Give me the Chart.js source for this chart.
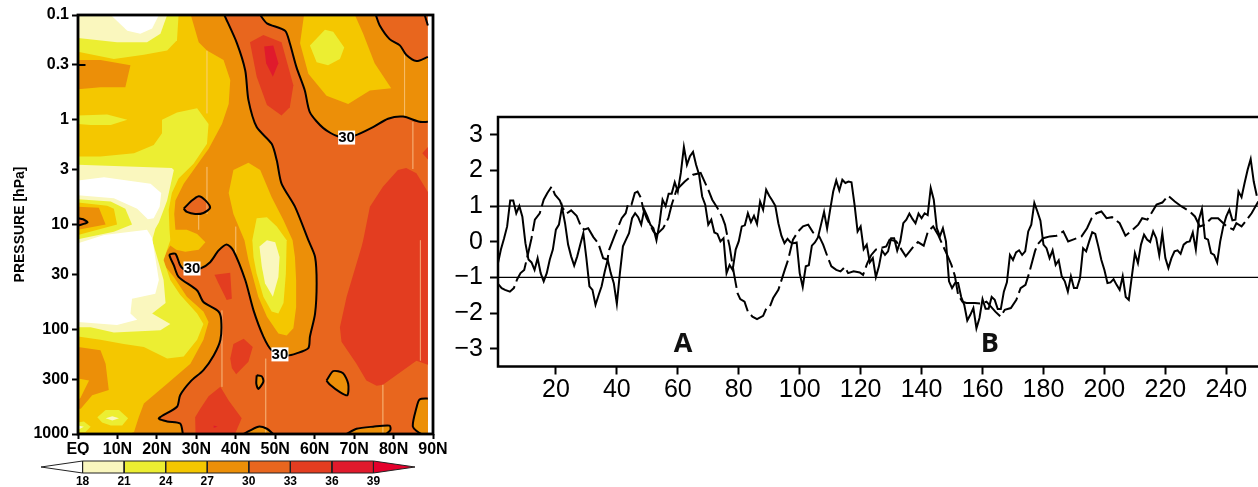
<!DOCTYPE html>
<html>
<head>
<meta charset="utf-8">
<title>temperature section and index series</title>
<script src="https://cdn.jsdelivr.net/npm/chart.js@4"></script>
<style>
	html, body { margin: 0; padding: 0; background: #fff; overflow: hidden; }
	canvas { position: absolute; }
</style>
</head>
<body>
<canvas id="sectionChart" width="460" height="455" style="left:0px;top:0px"></canvas>
<canvas id="barChart" width="440" height="32" style="left:0px;top:455px"></canvas>
<canvas id="seriesChart" width="818" height="487" style="left:440px;top:0px"></canvas>
<script>
// left panel: contour regions as [latitude, log10(pressure hPa)]
var latTicks = [0, 10, 20, 30, 40, 50, 60, 70, 80, 90];
var latLabels = ["EQ", "10N", "20N", "30N", "40N", "50N", "60N", "70N", "80N", "90N"];
var pressureTicks = [0.1, 0.3, 1, 3, 10, 30, 100, 300, 1000];
var levels = [18, 21, 24, 27, 30, 33, 36, 39];
var levelColors = ["#FFFFFF", "#FAF7BE", "#ECEE32", "#F4C700", "#EC8F08", "#E8661E", "#E33D20", "#E01A2C", "#E4002B"];
var labelLats = [68.1, 28.9, 51.2];
var labelLogP = [0.17, 1.42, 2.24];

var contourWest = [[37.1,-1],[40.3,-.73],[42.4,-.47],[43.2,-.19],[45.3,.07],[49.1,.23],[50.4,.39],[51.6,.61],[55,.83],[58.4,1.15],[60.1,1.31],[60.5,1.56],[60.1,1.85],[58.8,2.07],[58.4,2.18],[55.4,2.23],[52.9,2.25],[49.1,2.2],[47,2.07],[44.5,1.82],[42.4,1.53],[39.4,1.25],[37.7,1.19],[35.6,1.25],[33.5,1.36],[31,1.42],[27,1.43],[25.9,1.39],[24.7,1.28],[23.2,1.29],[24.3,1.39],[25.5,1.5],[30.2,1.63],[31.8,1.74],[35.6,1.83],[36.3,1.91],[36.1,2.1],[34.4,2.25],[31.8,2.39],[28.5,2.5],[25.9,2.63],[25.1,2.74],[20.5,2.85],[22.6,2.88],[25.9,2.9],[26.6,3]];
var contourMid = [[46.2,-1],[47.9,-.92],[52.5,-.85],[53.7,-.73],[55.4,-.5],[57.5,-.28],[58.8,-.07],[62.2,.08],[66,.16],[70.2,.15],[74.8,.07],[78.6,-.01],[82.4,-.03],[86.6,.02],[88.7,.02]];
var contourNorth = [[75.5,-1],[76.5,-.9],[79,-.77],[81.6,-.71],[83.2,-.62],[85.8,-.56],[88.7,-.6]];
var contourCorner = [[87.9,-1],[88.7,-.9]];
var loopA = [[26.8,.85],[28.6,.78],[30.6,.73],[32.3,.77],[33.5,.84],[31.8,.89],[29.7,.9],[27.6,.88],[26.8,.85]];
var loopEq = [[0,.94],[1.3,.95],[2.4,.98],[0,1.01]];
var loopB = [[45.3,2.44],[46.6,2.45],[47,2.5],[45.7,2.57],[45.2,2.52],[45.3,2.44]];
var loopC = [[63,2.49],[64.7,2.4],[67.2,2.42],[68.5,2.52],[68.3,2.63],[66.4,2.6],[63.9,2.53],[63,2.49]];
var loopD = [[42,3],[45.7,2.93],[47.9,2.95],[49.5,3]];
var loopE = [[68.1,3],[70.6,2.95],[74.8,2.93],[79,2.92],[79.2,2.96],[78.2,3]];
var loopF = [[88.7,2.66],[86.6,2.67],[85.8,2.75],[84.9,2.93],[87,3],[88.7,3]];

var whole = [[0,-1],[88.7,-1],[88.7,3],[0,3]];
var below30West = [[0,-1]].concat(contourWest, [[0,3]]);
var below30North = contourMid.concat(contourNorth.slice().reverse());

var b24Main = [[0,-1],[28.6,-1],[30.6,-.74],[32.7,-.66],[36.9,-.57],[38.6,-.38],[38.2,-.15],[36.5,.04],[33.1,.28],[32.3,.32],[26.8,.61],[24.7,.77],[24.4,.9],[24.7,1.05],[27.6,1.05],[30.2,1.09],[32.3,1.17],[30.6,1.24],[27.2,1.26],[24.9,1.24],[23.4,1.2],[22.6,1.25],[21.3,1.36],[24.3,1.5],[27.6,1.69],[31.8,1.83],[33.1,1.93],[31.8,2.1],[28.5,2.33],[22.6,2.52],[16.7,2.71],[15.4,2.84],[14.2,2.98],[12.9,3],[0,3]];
var b27IslandTop = [[0,-.57],[5.7,-.57],[13.3,-.52],[12,-.31],[5.7,-.31],[0,-.29]];
var b27IslandLow = [[0,2.17],[5.7,2.2],[7,2.33],[7.8,2.58],[3.6,2.63],[.7,2.76],[0,2.76]];
var b24Notch = [[0,2.47],[2.8,2.49],[.7,2.65],[0,2.68]];
var b24North = [[57.3,-1],[70.2,-1],[72.3,-.82],[75.2,-.54],[79.4,-.3],[74,-.28],[68.5,-.15],[63,-.23],[58.4,-.44],[56.3,-.73]];
var b24Middle = [[38.2,.7],[39.4,.48],[43.2,.41],[46.2,.48],[49.1,.74],[52.1,.96],[54.4,1.15],[55,1.31],[55.3,1.53],[55.3,1.79],[54.6,1.99],[52.9,2.06],[50.8,2.04],[47.9,1.88],[45.7,1.69],[43.2,1.34],[42.2,1.15],[39.4,.9]];
var b24Corner = [[88.7,2.87],[88.1,2.93],[88.7,2.96]];

var b21Top = [[0,-1],[25.5,-1],[25.1,-.76],[22.6,-.66],[16.7,-.62],[9.1,-.58],[0,-.65]];
var b21Sliver = [[0,-.04],[7.4,-.05],[12.5,0],[8.3,.05],[3.2,.05],[0,.04]];
var b21Main = [[0,.35],[5.7,.35],[14.2,.32],[19.2,.24],[21.3,.13],[21.3,0],[25.1,-.07],[30.2,-.11],[33.1,.04],[32.7,.23],[29.3,.42],[25.5,.56],[23.8,.7],[23,.86],[23.2,1.05],[23.4,1.15],[21.7,1.34],[23.4,1.53],[25.9,1.67],[30.2,1.85],[31.8,1.95],[30.2,2.1],[26.8,2.26],[22.6,2.28],[16.7,2.17],[11.6,2.14],[5.7,2.1],[0,2.07]];
var b21Middle = [[44.2,1.15],[44.5,1.09],[45.3,.94],[47.9,.93],[50.4,1.02],[52.9,1.15],[52.7,1.47],[52.1,1.75],[50.8,1.85],[49.1,1.83],[47,1.69],[45.3,1.47],[44.5,1.31]];
var b21North = [[58.8,-.71],[62.6,-.86],[64.7,-.84],[67.5,-.69],[66.4,-.58],[63.4,-.52],[60.5,-.55]];
var b21Low1 = [[4.9,2.84],[7,2.77],[10.4,2.77],[12.7,2.85],[11.2,2.92],[8.3,2.92],[6.1,2.89]];
var b21Low2 = [[0,2.89],[1.5,2.88],[3.2,2.93],[1.9,2.98],[0,2.98]];

var b18Top = [[0,-1],[22.6,-1],[20.9,-.82],[17.5,-.74],[9.9,-.74],[0,-.78]];
var b18Main = [[0,.43],[23.8,.46],[24.3,.48],[22.6,.77],[20.5,.98],[19.6,1.04],[18.8,1.15],[20.5,1.37],[21.7,1.53],[22.2,1.75],[18.8,1.85],[23.4,1.95],[20.9,2.01],[9.1,2.03],[3.2,1.98],[0,1.98]];
var b18Middle = [[46,1.21],[47.9,1.15],[50,1.17],[51.1,1.31],[50.8,1.5],[49.4,1.69],[47.4,1.56],[46.6,1.4]];
var b18Low1 = [[7,2.85],[8.7,2.83],[10.4,2.85],[8.7,2.87]];
var b18Low2 = [[0,2.92],[1.5,2.93],[0,2.96]];

var whiteTop = [[8.3,-1],[20.5,-1],[18.8,-.87],[15.8,-.82],[12.5,-.85]];
var whiteUpper = [[0,.58],[6.6,.55],[18.4,.61],[21.1,.7],[20.7,.83],[19.2,.94],[17.7,.95],[15,.85],[9.1,.75],[0,.72]];
var whiteLower = [[0,1.18],[6.6,1.1],[17.5,1.05],[18.8,1.13],[20.5,1.53],[19.6,1.66],[13.7,1.71],[13.3,1.85],[15,1.91],[9.9,1.96],[0,1.93]];

var tongue21 = [[0,.76],[8.3,.78],[12,.85],[13.7,1],[9.1,1.07],[0,1.14]];
var tongue24 = [[0,.79],[7.4,.82],[9.1,.85],[9.9,1],[0,1.1]];
var tongue27 = [[0,.83],[5.3,.84],[7,1],[0,1.05]];

var b33Core = [[43.6,-.74],[47,-.81],[51.6,-.74],[54.6,-.33],[53.7,-.12],[51.6,-.04],[47.9,-.14],[45.3,-.41]];
var b33North = [[72.3,1.15],[74,.83],[77.3,.64],[81.1,.48],[83.2,.46],[85.8,.51],[88.7,.69],[88.7,2.34],[85.8,2.3],[77.3,2.53],[75.7,2.54],[73.1,2.49],[70.6,2.33],[66.8,2.12],[66.4,1.98],[68.1,1.69],[71.9,1.21]];
var b33Tip = [[88.7,.26],[87.3,.32],[88.7,.38]];
var b33Small = [[34.6,1.48],[38.6,1.46],[39,1.71],[37.7,1.72],[35.6,1.56]];
var b33Mid = [[38.6,2.28],[39.4,2.14],[42,2.09],[44.3,2.17],[43.2,2.31],[40.1,2.43],[39,2.37]];
var b33Low = [[29.7,2.84],[31,2.76],[33.1,2.64],[36.1,2.55],[38.2,2.68],[41.5,2.85],[39.8,3],[29.8,3]];
var b36Core = [[47.2,-.7],[49.5,-.71],[50.8,-.54],[49.4,-.41],[47.7,-.54]];
var b36Dot = [[34.4,2.92],[35.4,2.93],[34.4,2.94]];

// [latitude, logP from, logP to]
var seams = [[32.7,-.66,-.06],[32.7,.45,.9],[82.8,-.66,-.03],[84.9,.02,.47],[86.8,1.15,2.3],[47.6,2.28,3],[36.5,1.82,2.55],[77.3,2.53,3],[40,1.02,1.28],[30.6,.9,1.05]];

// right panel
var seriesXTicks = [20, 40, 60, 80, 100, 120, 140, 160, 180, 200, 220, 240];
var seriesYTicks = [-3, -2, -1, 0, 1, 2, 3];
var refLevels = [1, -1];
var solidValues = [
	-.6,-.2,.1,.43,1.16,1.16,.8,1,.7,-.04,
	-.5,-.58,-.79,-.46,-.88,-1.11,-.88,-.5,-.22,.34,
	.48,.97,.52,-.08,-.41,-.67,-.41,-.08,.24,-.46,
	-1.25,-1.35,-1.77,-1.5,-1.25,-.85,-.5,-.88,-1.16,-1.74,
	-.88,-.13,.06,.24,.66,.8,.69,.48,.9,.71,
	.48,.38,.04,.52,1.18,1,1.35,1.35,1.67,1.41,
	1.93,2.66,2.16,2.4,2.52,2.16,1.88,1.27,1.04,.48,
	.62,.26,.22,.01,.1,-.88,-.65,-.79,-.22,.01,
	.43,.46,.8,.55,.73,.5,1.13,.9,1.46,1.29,
	1.16,1.01,.52,.17,-.04,.08,-.02,-.04,-.02,-.88,
	-1.27,-.69,-.66,-.11,-.02,.12,.48,.84,.37,.9,
	1.41,1.72,1.44,1.74,1.65,1.69,1.67,1.04,.29,.43,
	-.21,-.08,-.58,-.46,-.99,-.69,-.24,-.37,-.27,.1,
	.1,-.25,.01,.52,.62,.79,.64,.52,.79,.66,
	.8,.75,1.51,1.18,.38,.15,.38,.01,-1.11,-1.3,
	-1.16,-1.16,-1.55,-1.77,-2.21,-2.05,-1.86,-2.43,-2.14,-1.61,
	-1.88,-1.88,-1.55,-1.63,-1.89,-1.89,-1.4,-1.14,-.37,-.51,
	-.3,-.24,-.37,-.27,.29,.48,1.09,.85,.59,-.08,
	-.18,-.46,-.24,-.65,-.52,-.97,-1.11,-1.4,-.97,-1.3,
	-1.3,-1.02,-.18,-.27,.01,.27,.22,-.13,-.51,-.79,
	-1.16,-1.14,-1.05,-1.21,-1.35,-.97,-1.55,-1.63,-.97,-.32,
	-.6,-.08,.2,.06,-.01,.29,.1,-.38,.24,-.46,
	-.74,-.46,-.27,-.24,-.34,-.08,-.01,.01,.26,-.22,
	.62,.92,.1,.06,-.32,-.37,-.58,.01,.43,.71,
	.9,.6,.62,1.41,1.25,1.65,2.02,2.32,1.69,1.29
];
var dashedDays = [1,2.2,3.3,4.9,6.2,7.3,8.4,9.6,10.9,12,13.1,14.7,16,17.2,18.6,19.7,21.3,22.2,23.5,25,26.8,28,29.2,30.6,32.3,33.9,35.5,36.9,37.5,39.4,41.6,42.9,43.7,44.8,45.9,46.8,47.9,48.7,49.8,52,53,55.2,56.9,58,59.6,62.3,65,67.5,68.6,70,71.3,73,74.6,75.5,76.4,77,78.4,79.6,80.5,81.9,83,84.5,86,88,89.1,90.2,91.3,93,95.1,96.2,97.8,99.5,101.1,102.8,104.4,106.4,107.7,109.3,110.4,112,113.4,114.8,115.9,117.7,119.7,120.8,122.2,123.5,125,128.4,129.5,131.7,133.4,134.8,136.1,137.4,138.8,140.7,142.1,143.8,145.4,147.1,148.4,149.8,150.9,152,153.4,154.7,157.5,159.7,161.3,164.2,165.9,167.3,169.3,171.1,172.5,174.1,175.3,177.2,178,179.9,182.1,184.3,186.5,188.1,189.7,192.5,194.3,195.8,197.4,199,200.7,202.5,205,206.9,208.7,211.1,212.4,214.1,215.4,217.1,219,220.9,223.1,225.3,228,229.7,231.3,233,235.1,237.3,240.1,242.3,243.3,245,246.3,248.3,250.5];
var dashedValues = [-1.18,-1.3,-1.35,-1.4,-1.3,-1.05,-.88,-.79,-.32,.1,.62,.8,1.18,1.37,1.55,1.32,1.16,.95,.79,.88,.73,.48,.34,.38,.13,-.04,-.46,-.5,-.22,.2,.66,.8,1.07,1.04,1.37,1.41,1.23,.9,.66,.29,.2,.38,.66,1.04,1.46,1.69,1.88,1.93,1.72,1.46,1.18,.95,.69,.48,.1,-.13,-.88,-1.44,-1.61,-1.68,-1.96,-2.1,-2.17,-2.08,-1.86,-1.82,-1.58,-1.35,-.79,-.51,.06,.29,.43,.48,.26,.15,-.08,-.46,-.69,-.79,-.83,-.71,-.88,-.83,-.86,-.93,-.6,-.37,-.22,-.13,.06,.01,-.22,-.41,-.27,-.13,-.01,-.11,.29,.43,.2,-.13,-.37,-.65,-.95,-1.49,-1.68,-1.72,-1.72,-1.74,-1.68,-1.96,-2.1,-1.91,-1.86,-1.63,-1.3,-1.21,-.88,-.27,-.08,.1,.15,.17,.29,.01,.06,.15,.38,.66,.8,.85,.66,.69,.52,.17,.29,.48,.66,.62,.8,1.04,1.1,1.29,1.13,.99,.85,.71,.43,.48,.66,.66,.43,.34,.52,.43,.57,.8,1.13];
var letterLabels = ["A", "B"];
var letterDays = [61.7, 162.4];
var letterValues = [-2.87, -2.87];

function toPoints(poly) {
	return poly.map(function (p) {
		return { x: p[0], y: Math.pow(10, p[1]) };
	});
}

var framePlugin = {
	id: "frame",
	afterDatasetsDraw: function (chart, args, opts) {
		var a = chart.chartArea, ctx = chart.ctx;
		ctx.save();
		ctx.strokeStyle = "#000";
		ctx.lineWidth = opts.width;
		ctx.strokeRect(a.left, a.top, a.right - a.left + (opts.open ? 20 : 0), a.bottom - a.top);
		ctx.restore();
	}
};

function drawSection() {
	var paint = [
		[whole, 5], [below30West, 4], [below30North, 4],
		[b24Main, 3], [b27IslandTop, 4], [b27IslandLow, 4], [b24Notch, 3], [b24North, 3], [b24Middle, 3], [b24Corner, 3],
		[b21Top, 2], [b21Sliver, 2], [b21Main, 2], [b21Middle, 2], [b21North, 2], [b21Low1, 2], [b21Low2, 2],
		[b18Top, 1], [b18Main, 1], [b18Middle, 1], [b18Low1, 1], [b18Low2, 1],
		[whiteTop, 0], [whiteUpper, 0], [whiteLower, 0],
		[tongue21, 2], [tongue24, 3], [tongue27, 4], [loopEq, 5],
		[b33Core, 6], [b33North, 6], [b33Tip, 6], [b33Small, 6], [b33Mid, 6], [b33Low, 6],
		[b36Core, 7], [b36Dot, 7],
		[loopA, 5], [loopB, 4], [loopC, 4], [loopD, 4], [loopE, 4], [loopF, 4]
	];
	var datasets = paint.map(function (item, i) {
		return {
			data: toPoints(item[0]),
			showLine: true,
			fill: "shape",
			backgroundColor: levelColors[item[1]],
			borderWidth: 0,
			pointRadius: 0,
			order: -i
		};
	});
	seams.forEach(function (s) {
		datasets.push({
			data: toPoints([[s[0], s[1]], [s[0], s[2]]]),
			showLine: true,
			borderColor: "rgba(255,215,160,0.3)",
			borderWidth: 1,
			pointRadius: 0,
			order: -100
		});
	});
	[contourWest, contourMid, contourNorth, contourCorner, loopA, loopEq, loopB, loopC, loopD, loopE, loopF].forEach(function (line) {
		datasets.push({
			data: toPoints(line),
			showLine: true,
			borderColor: "#000",
			borderWidth: 2,
			tension: 0.25,
			pointRadius: 0,
			order: -200
		});
	});
	// the short inner mark at 0.3 hPa
	datasets.push({
		data: [{ x: 0, y: 0.3 }, { x: 1.9, y: 0.3 }],
		showLine: true,
		borderColor: "#000",
		borderWidth: 2,
		pointRadius: 0,
		order: -201
	});

	var labelPlugin = {
		id: "contourLabels",
		afterDatasetsDraw: function (chart) {
			var ctx = chart.ctx;
			ctx.save();
			ctx.font = "bold 15px 'Liberation Sans'";
			ctx.textAlign = "center";
			ctx.textBaseline = "middle";
			labelLats.forEach(function (lat, i) {
				var x = chart.scales.x.getPixelForValue(lat);
				var y = chart.scales.y.getPixelForValue(Math.pow(10, labelLogP[i]));
				ctx.fillStyle = "#fff";
				ctx.fillRect(x - 8.5, y - 7, 17, 14);
				ctx.fillStyle = "#000";
				ctx.fillText("30", x, y + 0.5);
			});
			ctx.restore();
		}
	};

	new Chart(document.getElementById("sectionChart"), {
		type: "scatter",
		data: { datasets: datasets },
		plugins: [framePlugin, labelPlugin],
		options: {
			responsive: false,
			animation: false,
			devicePixelRatio: 1,
			layout: { padding: { top: 15, right: 27 } },
			plugins: { legend: { display: false }, tooltip: { enabled: false }, frame: { width: 2.8 } },
			scales: {
				x: {
					type: "linear",
					min: 0,
					max: 90,
					afterBuildTicks: function (s) { s.ticks = latTicks.map(function (v) { return { value: v }; }); },
					afterFit: function (s) { s.height = 21; },
					grid: { drawOnChartArea: false, tickLength: 5, tickWidth: 2, tickColor: "#000" },
					border: { display: false },
					ticks: {
						autoSkip: false,
						maxRotation: 0,
						padding: 1,
						color: "#000",
						font: { family: "'Liberation Sans'", size: 16, weight: "bold" },
						callback: function (v) { return latLabels[latTicks.indexOf(v)]; }
					}
				},
				y: {
					type: "logarithmic",
					reverse: true,
					min: 0.1,
					max: 1000,
					afterBuildTicks: function (s) { s.ticks = pressureTicks.map(function (v) { return { value: v }; }); },
					afterFit: function (s) { s.width = 78; },
					grid: { drawOnChartArea: false, tickLength: 6, tickWidth: 2, tickColor: "#000" },
					border: { display: false },
					title: {
						display: true,
						text: "PRESSURE [hPa]",
						color: "#000",
						padding: { top: 12, bottom: 0 },
						font: { family: "'Liberation Sans'", size: 14, weight: "bold" }
					},
					ticks: {
						autoSkip: false,
						padding: 3,
						color: "#000",
						font: { family: "'Liberation Sans'", size: 16, weight: "bold" },
						callback: function (v) { return String(v); }
					}
				}
			}
		}
	});
}

function drawColorBar() {
	var first = levels[0] - 3, last = levels[levels.length - 1] + 3;
	var datasets = [];
	var edges = [first].concat(levels, [last]);
	edges.slice(0, -1).forEach(function (from, i) {
		var to = edges[i + 1];
		var cell;
		if (i === 0) cell = [{ x: from, y: 0.5 }, { x: to, y: 1 }, { x: to, y: 0 }, { x: from, y: 0.5 }];
		else if (i === edges.length - 2) cell = [{ x: from, y: 0 }, { x: from, y: 1 }, { x: to, y: 0.5 }, { x: from, y: 0 }];
		else cell = [{ x: from, y: 0 }, { x: from, y: 1 }, { x: to, y: 1 }, { x: to, y: 0 }, { x: from, y: 0 }];
		datasets.push({
			data: cell,
			showLine: true,
			fill: "shape",
			backgroundColor: levelColors[i],
			borderColor: "#222",
			borderWidth: 1,
			pointRadius: 0,
			clip: 4
		});
	});
	new Chart(document.getElementById("barChart"), {
		type: "scatter",
		data: { datasets: datasets },
		options: {
			responsive: false,
			animation: false,
			devicePixelRatio: 1,
			layout: { padding: { left: 41, right: 25, top: 6 } },
			plugins: { legend: { display: false }, tooltip: { enabled: false } },
			scales: {
				x: {
					type: "linear",
					min: first,
					max: last,
					afterBuildTicks: function (s) { s.ticks = levels.map(function (v) { return { value: v }; }); },
					afterFit: function (s) { s.height = 14; },
					grid: { display: false, drawTicks: false },
					border: { display: false },
					ticks: {
						autoSkip: false,
						maxRotation: 0,
						padding: 1,
						color: "#000",
						font: { family: "'Liberation Sans'", size: 12, weight: "bold" }
					}
				},
				y: { display: false, min: 0, max: 1 }
			}
		}
	});
}

function drawSeries() {
	var days = solidValues.map(function (v, i) { return i + 1; });
	var datasets = refLevels.map(function (v) {
		return {
			data: [{ x: 1, y: v }, { x: 251, y: v }],
			showLine: true,
			borderColor: "#000",
			borderWidth: 1.3,
			pointRadius: 0
		};
	});
	datasets.push({
		data: days.map(function (d, i) { return { x: d, y: solidValues[i] }; }),
		showLine: true,
		borderColor: "#000",
		borderWidth: 2,
		pointRadius: 0
	});
	datasets.push({
		data: dashedDays.map(function (d, i) { return { x: d, y: dashedValues[i] }; }),
		showLine: true,
		borderColor: "#000",
		borderWidth: 2,
		borderDash: [22, 5],
		pointRadius: 0
	});

	var letterPlugin = {
		id: "letters",
		afterDatasetsDraw: function (chart) {
			var ctx = chart.ctx;
			ctx.save();
			ctx.font = "bold 27px 'Open Sans'";
			ctx.textAlign = "center";
			ctx.textBaseline = "middle";
			ctx.fillStyle = "#111";
			letterLabels.forEach(function (t, i) {
				ctx.fillText(t, chart.scales.x.getPixelForValue(letterDays[i]), chart.scales.y.getPixelForValue(letterValues[i]));
			});
			ctx.restore();
		}
	};

	new Chart(document.getElementById("seriesChart"), {
		type: "scatter",
		data: { datasets: datasets },
		plugins: [framePlugin, letterPlugin],
		options: {
			responsive: false,
			animation: false,
			devicePixelRatio: 1,
			layout: { padding: { top: 117 } },
			plugins: { legend: { display: false }, tooltip: { enabled: false }, frame: { width: 2.5, open: true } },
			scales: {
				x: {
					type: "linear",
					min: 1,
					max: 250.4,
					afterBuildTicks: function (s) { s.ticks = seriesXTicks.map(function (v) { return { value: v }; }); },
					afterFit: function (s) { s.height = 120.5; },
					grid: { drawOnChartArea: false, tickLength: 8, tickWidth: 2, tickColor: "#000" },
					border: { display: false },
					ticks: {
						autoSkip: false,
						maxRotation: 0,
						padding: 1,
						color: "#000",
						font: { family: "'Liberation Sans'", size: 25 }
					}
				},
				y: {
					type: "linear",
					min: -3.5,
					max: 3.5,
					afterBuildTicks: function (s) { s.ticks = seriesYTicks.map(function (v) { return { value: v }; }); },
					afterFit: function (s) { s.width = 58; },
					grid: { drawOnChartArea: false, tickLength: 8, tickWidth: 2, tickColor: "#000" },
					border: { display: false },
					ticks: {
						autoSkip: false,
						padding: 7,
						color: "#000",
						font: { family: "'Liberation Sans'", size: 25 },
						callback: function (v) { return v < 0 ? "\u2212" + Math.abs(v) : String(v); }
					}
				}
			}
		}
	});
}

drawSection();
drawColorBar();
drawSeries();
</script>
</body>
</html>
